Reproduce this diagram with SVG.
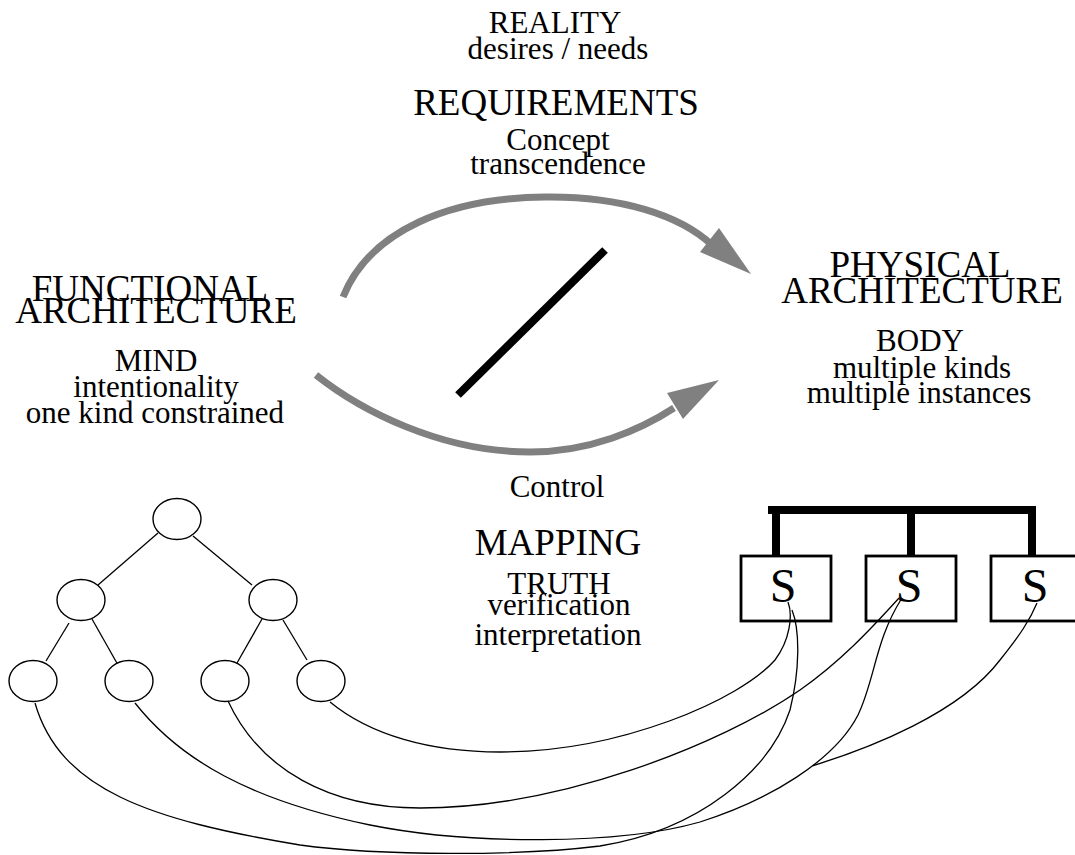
<svg xmlns="http://www.w3.org/2000/svg" width="1075" height="855" viewBox="0 0 1075 855">
<style>
text{font-family:"Liberation Serif","Times New Roman",serif;fill:#000;text-anchor:middle}
.t{font-size:37px}
.s{font-size:31px}
.S{font-size:48px}
.node{fill:#fff;stroke:#000;stroke-width:1.4}
.box{fill:#fff;stroke:#000;stroke-width:2.8}
.tl{stroke:#000;stroke-width:1.3;fill:none}
.map{stroke:#000;stroke-width:1.3;fill:none}
.arc{stroke:#808080;stroke-width:7;fill:none}
.head{fill:#808080}
.bus{stroke:#000;stroke-width:8;fill:none}
</style>
<rect width="1075" height="855" fill="#fff"/>
<g id="labels">
<text class="s" x="555" y="33">REALITY</text>
<text class="s" x="558" y="59">desires / needs</text>
<text class="t" x="556" y="115">REQUIREMENTS</text>
<text class="s" x="558" y="150">Concept</text>
<text class="s" x="558" y="174">transcendence</text>
<text class="s" x="557" y="497">Control</text>
<text class="t" x="558" y="555">MAPPING</text>
<text class="s" x="559" y="594">TRUTH</text>
<text class="s" x="559" y="615">verification</text>
<text class="s" x="558" y="645">interpretation</text>
</g>
<g id="functional">
<text class="t" x="150" y="301">FUNCTIONAL</text>
<text class="t" x="156" y="323">ARCHITECTURE</text>
<text class="s" x="156" y="371">MIND</text>
<text class="s" x="156" y="397">intentionality</text>
<text class="s" x="155" y="423">one kind constrained</text>
</g>
<g id="physical">
<text class="t" x="920" y="277">PHYSICAL</text>
<text class="t" x="922" y="303">ARCHITECTURE</text>
<text class="s" x="920" y="351">BODY</text>
<text class="s" x="922" y="378">multiple kinds</text>
<text class="s" x="919" y="403">multiple instances</text>
</g>
<g id="arrows">
<path class="arc" d="M 343 297 C 370 230, 450 198, 545 197 C 620 196, 680 215, 712 245"/>
<polygon class="head" points="751,274 700,252 719,228"/>
<path class="arc" d="M 316 375 C 360 410, 440 452, 530 452 C 590 452, 640 430, 674 408"/>
<polygon class="head" points="719,380 667,393 683,419"/>
<line x1="458" y1="395" x2="605" y2="250" stroke="#000" stroke-width="8"/>
</g>
<g id="tree-edges">
<line class="tl" x1="158" y1="533" x2="98" y2="585"/>
<line class="tl" x1="193" y1="536" x2="252" y2="585"/>
<line class="tl" x1="69" y1="623" x2="46" y2="661"/>
<line class="tl" x1="92" y1="619" x2="118" y2="665"/>
<line class="tl" x1="262" y1="619" x2="237" y2="663"/>
<line class="tl" x1="283" y1="620" x2="307" y2="660"/>
</g>
<g id="tree-root"><ellipse class="node" cx="177" cy="519" rx="24" ry="20.5"/></g>
<g id="tree-l"><ellipse class="node" cx="81" cy="600" rx="24" ry="20.5"/></g>
<g id="tree-r"><ellipse class="node" cx="273" cy="600" rx="24" ry="20.5"/></g>
<g id="tree-ll"><ellipse class="node" cx="33" cy="681" rx="24" ry="20.5"/></g>
<g id="tree-lr"><ellipse class="node" cx="129" cy="681" rx="24" ry="20.5"/></g>
<g id="tree-rl"><ellipse class="node" cx="225" cy="681" rx="24" ry="20.5"/></g>
<g id="tree-rr"><ellipse class="node" cx="321" cy="681" rx="24" ry="20.5"/></g>
<g id="bus">
<path class="bus" d="M 768 510 H 1036 M 776 510 V 556 M 911 510 V 556 M 1032 510 V 556"/>
</g>
<g id="s1"><rect class="box" x="741" y="556" width="90" height="65"/><text class="S" x="783" y="602">S</text></g>
<g id="s2"><rect class="box" x="866" y="556" width="90" height="65"/><text class="S" x="909" y="602">S</text></g>
<g id="s3"><rect class="box" x="991" y="556" width="90" height="65"/><text class="S" x="1035" y="602">S</text></g>
<g id="mapping">
<path class="map" d="M 330 702 C 370 735, 430 752, 500 752 C 620 752, 740 700, 775 660 C 790 640, 793 615, 788 602"/>
<path class="map" d="M 35 703 C 60 790, 150 820, 300 845 C 380 856, 520 856, 600 846 C 700 830, 770 770, 790 710 C 800 670, 800 630, 792 610"/>
<path class="map" d="M 135 703 C 180 760, 250 800, 370 825 C 470 845, 620 845, 700 822 C 770 800, 835 760, 858 715 C 875 680, 875 640, 902 598"/>
<path class="map" d="M 812.6 765.8 C 870 748, 960 713, 1000 660 C 1020 635, 1030 620, 1037 603"/>
<path class="map" d="M 228 701 C 260 770, 330 808, 420 808 C 560 808, 720 745, 800 690 C 840 662, 870 630, 899 598"/>
</g>
</svg>
